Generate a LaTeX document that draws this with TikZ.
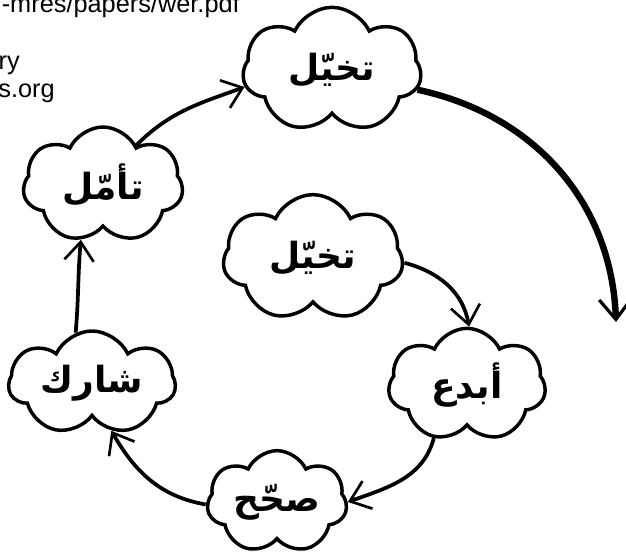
\documentclass[tikz,border=0pt]{standalone}
\usepackage{fontspec}
\setmainfont{Liberation Sans}
\newfontfamily\arabicfont[Script=Arabic]{DejaVu Sans}
\TeXXeTstate=1
\usetikzlibrary{arrows.meta,shapes}

\begin{document}
\begin{tikzpicture}[x=0.75pt,y=0.75pt]
%styles : nuages et flèches
\tikzset{nuage/.style={cloud,cloud puffs=7,cloud puff arc=130,cloud ignores aspect,draw,line width=2.6pt,inner sep=0pt,font=\arabicfont\bfseries\fontsize{27}{30}\selectfont}}
\tikzset{fleche/.style={line width=2.8pt,-{Straight Barb[length=14pt,width=22pt,line width=2pt 0]}}}
\tikzset{grandefleche/.style={line width=4.8pt,-{Straight Barb[length=15pt,width=24pt,line width=2.4pt 0]}}}
\clip (0,0) rectangle (626,554);
%adresse coupée en haut à gauche
\node[anchor=base east,font=\fontsize{19}{22}\selectfont,inner sep=0pt] (url) at (240,541) {-mres/papers/wer.pdf};
\node[anchor=base east,font=\fontsize{19}{22}\selectfont,inner sep=0pt] (ligne2) at (20,484) {ry};
\node[anchor=base east,font=\fontsize{19}{22}\selectfont,inner sep=0pt] (ligne3) at (55,456) {s.org};
%les nuages
\node[nuage,minimum width=134pt,minimum height=94pt] (imagine1) at (332,484) {\beginR تخيّل\endR};
\node[nuage,minimum width=120pt,minimum height=87pt] (taammal) at (103,369) {\beginR تأمّل\endR};
\node[nuage,minimum width=135pt,minimum height=95pt] (imagine2) at (313,296) {\beginR تخيّل\endR};
\node[nuage,minimum width=125pt,minimum height=78pt] (sharik) at (92,171) {\beginR شارك\endR};
\node[nuage,minimum width=118pt,minimum height=85pt] (abda) at (467,169) {\beginR أبدع\endR};
\node[nuage,minimum width=105pt,minimum height=77pt] (sahhih) at (277,52) {\beginR صحّح\endR};
%la grande flèche
\coordinate (finarc) at (616,232);
\draw[grandefleche] (imagine1.-13) to[out=-12,in=92] (finarc);
%le cycle
\draw[fleche] (imagine2.-3) to[out=-15,in=100] (abda.88);
\draw[fleche] (abda.-122) to[out=-105,in=20] (sahhih.0);
\draw[fleche] (sahhih.182) to[out=170,in=-60] (sharik.-68);
\draw[fleche] (sharik.108) to[out=85,in=-95] (taammal.-112);
\draw[fleche] (taammal.50) to[out=45,in=200] (imagine1.191);
\end{tikzpicture}
\end{document}
